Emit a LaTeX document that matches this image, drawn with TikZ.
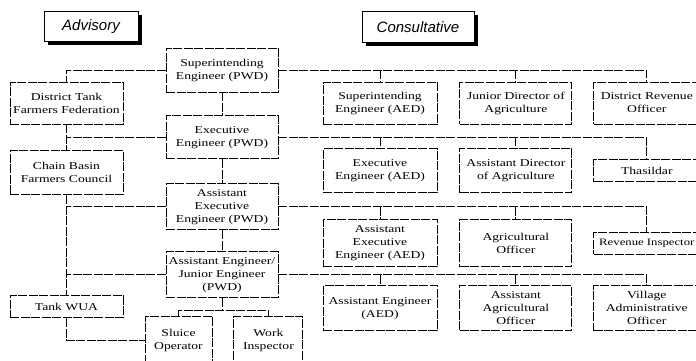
\documentclass[tikz,border=0pt]{standalone}
\usepackage{fontspec}
\setmainfont{Liberation Serif}[FakeStretch=1.3]
\newfontfamily\headfont{Liberation Sans}
\usetikzlibrary{positioning,shadows}

\begin{document}
\begin{tikzpicture}[x=1pt,y=-1pt, box/.style={draw,dash pattern=on 9pt off 1.5pt,line width=0.9pt,align=center,inner sep=1pt,minimum width=112pt,minimum height=44pt,font=\fontsize{10.5}{13}\selectfont}, head/.style={draw,line width=1pt,fill=white,minimum height=30pt,font=\headfont\itshape\fontsize{15}{16}\selectfont,drop shadow={shadow xshift=3.5pt,shadow yshift=-3.5pt,fill=black,opacity=1}}, link/.style={dash pattern=on 9pt off 1.5pt,line width=0.9pt}]
\useasboundingbox (0,0) rectangle (696,361);
% headings
\node[head,minimum width=94pt] (advisory) at (91,26.5) {Advisory};
\node[head,minimum width=112pt,minimum height=31pt] (consult) at (418,27.5) {Consultative};
% PWD line
\node[box] (sepwd) at (222,70) {Superintending\\Engineer (PWD)};
\node[box,minimum height=43pt,below=23pt of sepwd] (eepwd) {Executive\\Engineer (PWD)};
\node[box,minimum height=46pt,below=24pt of eepwd] (aeepwd) {Assistant\\Executive\\Engineer (PWD)};
\node[box,minimum height=46pt,below=21pt of aeepwd] (aejepwd) {Assistant Engineer/\\Junior Engineer\\(PWD)};
\node[box,minimum width=67pt,minimum height=48pt] (sluice) at (178.5,340) {Sluice\\Operator};
\node[box,minimum width=69pt,minimum height=48pt,right=21pt of sluice] (winsp) {Work\\Inspector};
% farmers
\node[box,minimum width=113pt,minimum height=42pt] (dtff) at (66.5,103) {District Tank\\Farmers Federation};
\node[box,minimum width=113pt,below=26pt of dtff] (cbfc) {Chain Basin\\Farmers Council};
\node[box,minimum width=113pt,minimum height=22pt,below=100pt of cbfc] (tankwua) {Tank WUA};
% consultative rows
\node[box,minimum width=114pt,minimum height=42pt] (seaed) at (380,103) {Superintending\\Engineer (AED)};
\node[box,minimum height=42pt,right=22pt of seaed] (jda) {Junior Director of\\Agriculture};
\node[box,minimum width=106pt,minimum height=42pt,right=21pt of jda] (dro) {District Revenue\\Officer};
\node[box,minimum width=114pt,below=24pt of seaed] (eeaed) {Executive\\Engineer (AED)};
\node[box,right=22pt of eeaed] (ada) {Assistant Director\\of Agriculture};
\node[box,minimum width=106pt,minimum height=22pt,right=21pt of ada] (thas) {Thasildar};
\node[box,minimum width=114pt,minimum height=47pt,below=26pt of eeaed] (aeeaed) {Assistant\\Executive\\Engineer (AED)};
\node[box,minimum height=47pt,right=22pt of aeeaed] (ao) {Agricultural\\Officer};
\node[box,minimum width=106pt,minimum height=22pt,right=21pt of ao,font=\fontsize{9.8}{13}\selectfont] (revi) {Revenue Inspector};
\node[box,minimum width=114pt,minimum height=45pt,below=18pt of aeeaed] (aeaed) {Assistant Engineer\\(AED)};
\node[box,minimum height=45pt,right=22pt of aeaed] (aao) {Assistant\\Agricultural\\Officer};
\node[box,minimum width=106pt,minimum height=45pt,right=21pt of aao] (vao) {Village\\Administrative\\Officer};
% links
\draw[link] (sepwd.south)--(eepwd.north);\draw[link] (eepwd.south)--(aeepwd.north);\draw[link] (aeepwd.south)--(aejepwd.north);
\draw[link] (aejepwd.south)--++(0,12) coordinate (fork);\draw[link] (sluice.north) |- (fork) -| (winsp.north);
\draw[link] (sepwd.west) -| (dtff.north);\draw[link] (dtff.south)--(cbfc.north);\draw[link] (cbfc.south)--(tankwua.north);
\draw[link] (eepwd.west)--(eepwd.west -| cbfc.north);\draw[link] (aeepwd.west)--(aeepwd.west -| cbfc.south);\draw[link] (aejepwd.west)--(aejepwd.west -| cbfc.south);
\draw[link] (tankwua.south) |- (sluice.west);
\draw[link] (sepwd.east) -| (dro.north);\draw[link] (sepwd.east -| seaed.north)--(seaed.north);\draw[link] (sepwd.east -| jda.north)--(jda.north);
\draw[link] (eepwd.east) -| (thas.north);\draw[link] (eepwd.east -| eeaed.north)--(eeaed.north);\draw[link] (eepwd.east -| ada.north)--(ada.north);
\draw[link] (aeepwd.east) -| (revi.north);\draw[link] (aeepwd.east -| aeeaed.north)--(aeeaed.north);\draw[link] (aeepwd.east -| ao.north)--(ao.north);
\draw[link] (aejepwd.east) -| (vao.north);\draw[link] (aejepwd.east -| aeaed.north)--(aeaed.north);\draw[link] (aejepwd.east -| aao.north)--(aao.north);
\end{tikzpicture}
\end{document}
